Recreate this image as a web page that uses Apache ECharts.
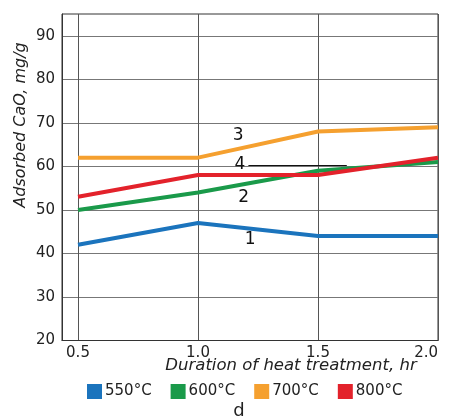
<!DOCTYPE html>
<html>
<head>
<meta charset="utf-8">
<script src="https://cdn.jsdelivr.net/npm/echarts@6/dist/echarts.min.js"></script>
<style>
html,body{margin:0;padding:0;background:#fff;}
#chart{width:451px;height:419px;}
</style>
</head>
<body>
<div id="chart"></div>
<script>
const durations = [0.5, 1.0, 1.5, 2.0];
const xTicks = [0.5, 1.0, 1.5, 2.0];
const yTicks = [20, 30, 40, 50, 60, 70, 80, 90];
const seriesNames = ['550°C', '600°C', '700°C', '800°C'];
const curveNumbers = ['1', '2', '3', '4'];
const s550 = [42, 47, 44, 44];
const s600 = [50, 54, 59, 61];
const s700 = [62, 62, 68, 69];
const s800 = [53, 58, 58, 62];
// positions (data coords) of the curve number annotations
const labelX = [1.217, 1.19, 1.167, 1.175];
const labelY = [43.2, 52.8, 67.1, 60.4];
const colors = ['#1b74bd', '#1a9a4a', '#f5a02f', '#e3222b'];
const values = [s550, s600, s700, s800];
const font = '"DejaVu Sans", sans-serif';

const chart = echarts.init(document.getElementById('chart'));
const series = values.map((vals, i) => {
  const s = {
    name: seriesNames[i],
    type: 'line',
    data: durations.map((d, j) => [d, vals[j]]),
    symbol: 'none',
    lineStyle: { width: 4, color: colors[i] },
    itemStyle: { color: colors[i] },
    z: 3 + i,
    markPoint: {
      symbol: 'circle', symbolSize: 0,
      label: { show: true, formatter: curveNumbers[i], color: '#111', fontSize: 17, fontFamily: font, position: 'inside' },
      data: [{ coord: [labelX[i], labelY[i]] }]
    }
  };
  if (i === 3) {
    s.markLine = {
      symbol: 'none', silent: true,
      label: { show: false },
      lineStyle: { color: '#111', width: 1, type: 'solid' },
      data: [[{ coord: [1.21, 60.3] }, { coord: [1.62, 60.3] }]]
    };
  }
  return s;
});

chart.setOption({
  animation: false,
  backgroundColor: '#fff',
  grid: { left: 62, right: 13, top: 14, bottom: 78.5, show: true, borderColor: '#333', borderWidth: 1 },
  xAxis: {
    type: 'value', min: 0.4333, max: 2.0,
    axisLine: { show: true, lineStyle: { color: '#333' } },
    axisTick: { show: false, customValues: xTicks },
    axisLabel: { customValues: xTicks, formatter: v => v.toFixed(1), color: '#222', fontSize: 15, fontFamily: font, margin: 5, alignMaxLabel: 'right' },
    splitLine: { show: true, lineStyle: { color: '#555', width: 1 } }
  },
  yAxis: {
    type: 'value', min: 20, max: 95,
    axisLine: { show: true, lineStyle: { color: '#333' } },
    axisTick: { show: false, customValues: yTicks },
    axisLabel: { customValues: yTicks, color: '#222', fontSize: 15, fontFamily: font, margin: 7 },
    splitLine: { show: true, lineStyle: { color: '#777', width: 1 } }
  },
  legend: {
    data: seriesNames, bottom: 15, left: 82,
    icon: 'rect', itemWidth: 15, itemHeight: 15, itemGap: 19,
    textStyle: { color: '#222', fontSize: 15, fontFamily: font, padding: [0, 0, 0, -2] }
  },
  graphic: [
    { type: 'text', x: 239, y: 411, style: { text: 'd', fontSize: 18, fontFamily: font, fill: '#222', align: 'center', verticalAlign: 'middle' } },
    { type: 'text', x: 291, y: 366, style: { text: 'Duration of heat treatment, hr', fontSize: 16.5, fontStyle: 'italic', fontFamily: font, fill: '#222', align: 'center', verticalAlign: 'middle' } },
    { type: 'text', x: 21, y: 125, rotation: Math.PI / 2, style: { text: 'Adsorbed CaO, mg/g', fontSize: 16, fontStyle: 'italic', fontFamily: font, fill: '#222', align: 'center', verticalAlign: 'middle' } }
  ],
  series: series
});
</script>
</body>
</html>
